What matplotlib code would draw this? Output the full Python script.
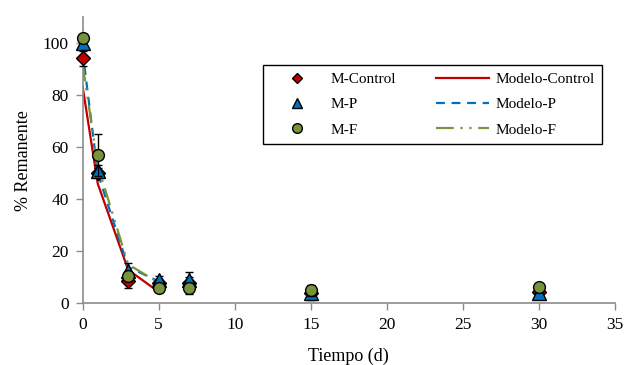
import matplotlib
matplotlib.use("Agg")
import matplotlib.pyplot as plt
from matplotlib.lines import Line2D

# Datos medidos (% remanente vs tiempo en dias)
dias = [0, 1, 3, 5, 7, 15, 30]
m_control = [94, 50, 8.5, 8, 8, 4, 4.5]
m_control_err = [3, 2, 2.5, 1.5, 2, 1.5, 1.5]
m_p = [100, 51, 12.5, 9, 9, 4, 4]
m_p_err = [1.5, 2, 3, 1.5, 3, 2.7, 1]
m_f = [102, 57, 10.5, 5.8, 5.8, 5, 6.5]
m_f_err = [1, 8, 2, 1, 2, 2, 1]

# Curvas del modelo
dias_modelo = [0, 1, 3, 5]
modelo_control = [83.5, 46, 12.9, 4.5]
modelo_p = [97, 50, 14, 8.5]
modelo_f = [92, 53, 15, 8]

RED = "#C00000"
BLUE = "#0070C0"
GREEN = "#77933C"
AXIS = "#8C8C8C"

plt.rcParams["font.family"] = ["Liberation Serif", "DejaVu Serif"]

fig = plt.figure(figsize=(6.27, 3.65), dpi=100)
ax = fig.add_axes([0.1316, 0.1685, 0.8494, 0.7855])

err_kw = dict(ecolor="black", elinewidth=1.0, capsize=3, capthick=1.0,
              linestyle="none", clip_on=False)

ax.errorbar(dias, m_control, yerr=m_control_err, marker="D", markersize=7,
            markerfacecolor=RED, markeredgecolor="black", markeredgewidth=1,
            zorder=3, **err_kw)
ax.errorbar(dias, m_p, yerr=m_p_err, marker="^", markersize=9.5,
            markerfacecolor=BLUE, markeredgecolor="black", markeredgewidth=1,
            zorder=4, **err_kw)
ax.errorbar(dias, m_f, yerr=m_f_err, marker="o", markersize=8.5,
            markerfacecolor=GREEN, markeredgecolor="black", markeredgewidth=1,
            zorder=5, **err_kw)

ls_p = (0, (4, 3))
ls_f = (0, (8, 3, 1, 3, 1, 3))
ax.plot(dias_modelo, modelo_control, color=RED, linewidth=1.6, zorder=2)
ax.plot(dias_modelo, modelo_p, color=BLUE, linewidth=1.6, linestyle=ls_p, zorder=2)
ax.plot(dias_modelo, modelo_f, color=GREEN, linewidth=1.6, linestyle=ls_f, zorder=2)

ax.set_xlim(0, 35)
ax.set_ylim(0, 110)
ax.set_xticks(range(0, 36, 5))
ax.set_yticks(range(0, 101, 20))

for s in ["top", "right"]:
    ax.spines[s].set_visible(False)
for s in ["left", "bottom"]:
    ax.spines[s].set_color(AXIS)
    ax.spines[s].set_linewidth(1.2)
ax.tick_params(axis="both", direction="out", length=5, width=1, color=AXIS,
               labelsize=12.5, pad=5)

ax.set_xlabel("Tiempo (d)", fontsize=13, labelpad=10)
ax.set_ylabel("% Remanente", fontsize=13, labelpad=8)

# legend: markers in first column, model lines in second
mk = dict(linestyle="none", markeredgecolor="black", markeredgewidth=1)
handles = [
    Line2D([], [], marker="D", markersize=5.5, markerfacecolor=RED, **mk),
    Line2D([], [], marker="^", markersize=7, markerfacecolor=BLUE, **mk),
    Line2D([], [], marker="o", markersize=7, markerfacecolor=GREEN, **mk),
    Line2D([], [], color=RED, linewidth=1.6),
    Line2D([], [], color=BLUE, linewidth=1.6, linestyle=ls_p),
    Line2D([], [], color=GREEN, linewidth=1.6, linestyle=ls_f),
]
labels = ["M-Control", "M-P", "M-F", "Modelo-Control", "Modelo-P", "Modelo-F"]
leg = ax.legend(handles, labels, ncol=2, loc="upper left",
                bbox_to_anchor=(0.339, 0.832, 0.637, 0.0), mode="expand",
                fontsize=11, frameon=True, fancybox=False, edgecolor="black",
                framealpha=1, handlelength=3.5, handletextpad=0.4,
                labelspacing=0.75, borderpad=0.5, borderaxespad=0)
leg.get_frame().set_linewidth(1.0)

fig.savefig("out.png", dpi=100)
